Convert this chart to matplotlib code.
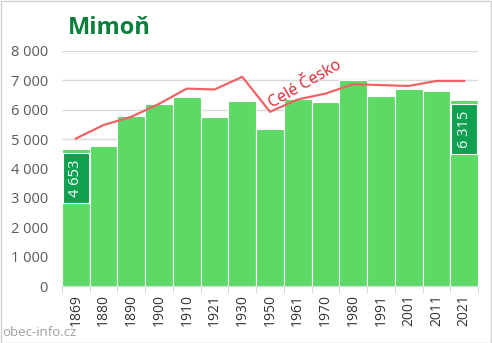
import matplotlib
matplotlib.use("Agg")
import matplotlib.pyplot as plt
from matplotlib.patches import Rectangle

years = ["1869", "1880", "1890", "1900", "1910", "1921", "1930", "1950",
         "1961", "1970", "1980", "1991", "2001", "2011", "2021"]
population = [4653, 4770, 5790, 6200, 6440, 5760, 6310, 5360,
              6380, 6270, 7010, 6470, 6710, 6640, 6315]
# Czech Republic total, rescaled to the town's level
czech_scaled = [5020, 5480, 5760, 6200, 6720, 6690, 7120, 5930,
                6350, 6550, 6870, 6840, 6810, 6980, 6980]
yticks = [0, 1000, 2000, 3000, 4000, 5000, 6000, 7000, 8000]
title = "Mimoň"
line_label = "Celé Česko"
source = "obec-info.cz"

W, H = 492, 343
fig = plt.figure(figsize=(W / 100, H / 100), dpi=100)
plt.rcParams["font.family"] = ["Open Sans", "DejaVu Sans"]

# outer frame
fig.patches.append(Rectangle((0.5 / W, 0.5 / H), 1 - 1.5 / W, 1 - 1.5 / H,
                             transform=fig.transFigure, fill=False,
                             edgecolor="#d0d0d0", linewidth=1))

left, right, bottom, top = 62, 478, 286, 51
ax = fig.add_axes([left / W, (H - bottom) / H, (right - left) / W, (bottom - top) / H])

x = list(range(len(years)))
ax.bar(x, population, width=1.0, color="#5dd965", edgecolor="#ffffff",
       linewidth=0.8, zorder=2)
ax.plot(x, czech_scaled, color="#ee6366", linewidth=1.6, zorder=3)

ax.set_xlim(-0.5, len(years) - 0.5)
ax.set_ylim(0, 8000)
ax.set_yticks(yticks)
ax.set_yticklabels([f"{v:,}".replace(",", " ") for v in yticks])
ax.grid(axis="y", color="#d9d9d9", linewidth=1, zorder=0)
ax.set_axisbelow(True)

for s in ["left", "right", "top"]:
    ax.spines[s].set_visible(False)
ax.spines["bottom"].set_color("#d9d9d9")

ax.tick_params(axis="y", length=0, labelsize=10.5, labelcolor="#595959", pad=10)
ax.set_xticks(x)
ax.set_xticklabels(years, rotation=90, fontsize=10, color="#333333")
ax.tick_params(axis="x", length=0, pad=6)
ax.set_xticks([i - 0.5 for i in range(len(years) + 1)], minor=True)
ax.tick_params(axis="x", which="minor", length=5, color="#d0d0d0")

# value labels on first and last bars
for i in (0, len(years) - 1):
    v = population[i]
    ax.add_patch(Rectangle((i - 0.46, v - 1830), 0.92, 1700, facecolor="#0fa050",
                           edgecolor="#ffffff", linewidth=0.8, zorder=4))
    ax.text(i, v - 980, f"{v:,}".replace(",", " "), rotation=90, ha="center",
            va="center", color="white", fontsize=10.5, zorder=5)

ax.text(8.25, 6880, line_label, rotation=30, color="#e0202a", fontsize=11.5,
        ha="center", va="center", zorder=5)

fig.text(68 / W, 1 - 28 / H, title, fontsize=17, fontweight="bold",
         color="#0a7f3c", ha="left", va="center")
fig.text(2 / W, 1 - 332 / H, source, fontsize=9.5, color="#a0a0a0",
         ha="left", va="center")

fig.savefig("out.png", dpi=100)
